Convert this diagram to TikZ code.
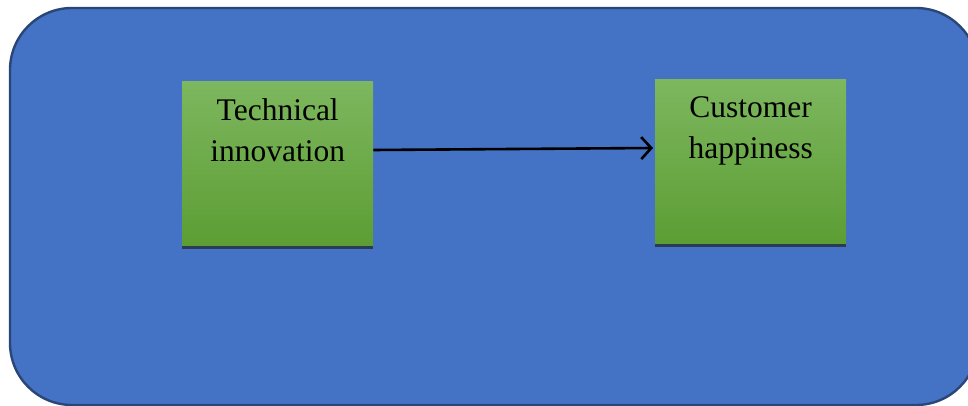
\documentclass[tikz,border=0pt]{standalone}
\usepackage{fontspec}
\setmainfont{Liberation Serif}
\usetikzlibrary{arrows.meta,calc}
\definecolor{bgblue}{HTML}{4472C4}
\definecolor{bgedge}{HTML}{2A4677}
\definecolor{gtop}{HTML}{7DB75F}
\definecolor{gbot}{HTML}{5C9D33}
\definecolor{gline}{HTML}{2B3A55}
\tikzset{
  greenbox/.style={draw=none, top color=gtop, bottom color=gbot, minimum width=191pt, minimum height=166pt, inner sep=0pt, anchor=north west},
  boxtext/.style={font=\fontsize{31.5pt}{41pt}\selectfont, align=center, inner sep=0pt, anchor=north},
  bottomline/.style={draw=gline, line width=3pt},
  link/.style={draw=black, line width=2.6pt, -{Straight Barb[length=10pt,width=22pt,line width=2.6pt]}}
}
\begin{document}
\begin{tikzpicture}[x=1pt,y=-1pt]
\useasboundingbox (0,0) rectangle (968,406);
\begin{scope}
\clip (0,0) rectangle (968,406);
\draw[fill=bgblue, draw=bgedge, line width=2.4pt, rounded corners=62pt] (10,8) rectangle (978,405);
\end{scope}
\node[greenbox] (a) at (182,81) {};
\node[greenbox] (b) at (655,79) {};
\draw[bottomline] (a.south west) -- (a.south east);
\draw[bottomline] (b.south west) -- (b.south east);
\node[boxtext] (ta) at ($(a.north)+(0,17)$) {Technical\\innovation};
\node[boxtext] (tb) at ($(b.north)+(0,17)$) {Customer\\happiness};
\coordinate (s) at ($(a.north east)+(0,69)$);
\coordinate (e) at ($(b.north west)+(-2,69)$);
\draw[link] (s) -- (e);
\end{tikzpicture}
\end{document}
